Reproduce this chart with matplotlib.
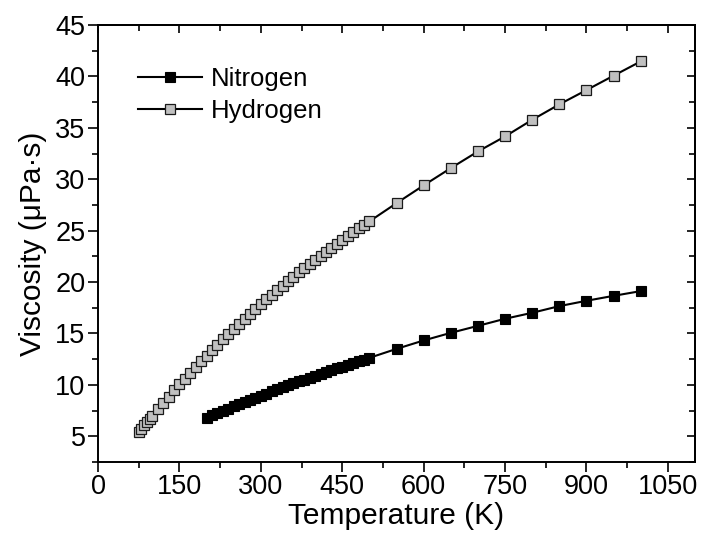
import matplotlib
matplotlib.use("Agg")
import matplotlib.pyplot as plt
from matplotlib.ticker import MultipleLocator

plt.rcParams['font.family'] = ['Liberation Sans', 'DejaVu Sans']

# Hydrogen (grey markers)
h2_T = [75, 80, 85, 90, 95, 100, 110, 120, 130, 140, 150, 160, 170, 180, 190,
        200, 210, 220, 230, 240, 250, 260, 270, 280, 290, 300, 310, 320, 330,
        340, 350, 360, 370, 380, 390, 400, 410, 420, 430, 440, 450, 460, 470,
        480, 490, 500, 550, 600, 650, 700, 750, 800, 850, 900, 950, 1000]
h2_mu = [5.40, 5.72, 6.05, 6.38, 6.70, 7.02, 7.64, 8.26, 8.87, 9.47, 10.05,
         10.62, 11.18, 11.73, 12.29, 12.85, 13.39, 13.92, 14.44, 14.95, 15.45,
         15.94, 16.43, 16.92, 17.41, 17.90, 18.35, 18.79, 19.23, 19.66, 20.09,
         20.51, 20.93, 21.34, 21.75, 22.15, 22.55, 22.94, 23.33, 23.72, 24.10,
         24.48, 24.85, 25.22, 25.56, 25.90, 27.67, 29.40, 31.08, 32.70, 34.16,
         35.78, 37.28, 38.67, 40.07, 41.46]

# Nitrogen (black markers)
n2_T = [200, 210, 220, 230, 240, 250, 260, 270, 280, 290, 300, 310, 320, 330,
        340, 350, 360, 370, 380, 390, 400, 410, 420, 430, 440, 450, 460, 470,
        480, 490, 500, 550, 600, 650, 700, 750, 800, 850, 900, 950, 1000]
n2_mu = [6.80, 7.03, 7.25, 7.47, 7.69, 7.91, 8.13, 8.34, 8.55, 8.76, 8.96,
         9.16, 9.36, 9.56, 9.75, 9.95, 10.14, 10.33, 10.52, 10.70, 10.89,
         11.07, 11.25, 11.43, 11.60, 11.78, 11.95, 12.12, 12.29, 12.46, 12.63,
         13.50, 14.32, 15.06, 15.74, 16.43, 17.01, 17.66, 18.18, 18.66, 19.12]

xticks = [0, 150, 300, 450, 600, 750, 900, 1050]
yticks = [5, 10, 15, 20, 25, 30, 35, 40, 45]

fig = plt.figure(figsize=(7.02, 5.37), dpi=100)
ax = fig.add_axes([98/702, 1-462/537, (695-98)/702, (462-25)/537])

ax.plot(n2_T, n2_mu, color='black', lw=1.5, marker='s', ms=6.9,
        mfc='black', mec='black', mew=0.8, label='Nitrogen')
ax.plot(h2_T, h2_mu, color='black', lw=1.5, marker='s', ms=6.9,
        mfc='#c0c0c0', mec='#1a1a1a', mew=0.9, label='Hydrogen')

ax.set_xlim(0, 1100)
ax.set_ylim(2.5, 45)
ax.set_xticks(xticks)
ax.set_yticks(yticks)
ax.xaxis.set_minor_locator(MultipleLocator(75))
ax.yaxis.set_minor_locator(MultipleLocator(2.5))
ax.tick_params(which='major', direction='out', length=7, width=1.2,
               labelsize=19.5, pad=2)
ax.tick_params(which='minor', direction='out', length=4.5, width=1.2)
for s in ax.spines.values():
    s.set_linewidth(1.4)

secx = ax.secondary_xaxis('top')
secx.set_xticks(xticks)
secx.xaxis.set_minor_locator(MultipleLocator(75))
secx.tick_params(which='major', direction='in', length=6, width=1.2, labeltop=False)
secx.tick_params(which='minor', direction='in', length=4, width=1.2)
secx.spines['top'].set_linewidth(1.4)

secy = ax.secondary_yaxis('right')
secy.set_yticks(yticks)
secy.yaxis.set_minor_locator(MultipleLocator(2.5))
secy.tick_params(which='major', direction='in', length=6, width=1.2, labelright=False)
secy.tick_params(which='minor', direction='in', length=4, width=1.2)
secy.spines['right'].set_linewidth(1.4)

ax.set_xlabel('Temperature (K)', fontsize=21.5, labelpad=1)
ax.set_ylabel('Viscosity (μPa·s)', fontsize=21.5, labelpad=6)

ax.legend(loc='upper left', bbox_to_anchor=(0.067, 0.903), frameon=False,
          fontsize=18.5, borderaxespad=0, borderpad=0, handlelength=2.5,
          handletextpad=0.35, labelspacing=0.28)

fig.savefig('out.png', dpi=100)
